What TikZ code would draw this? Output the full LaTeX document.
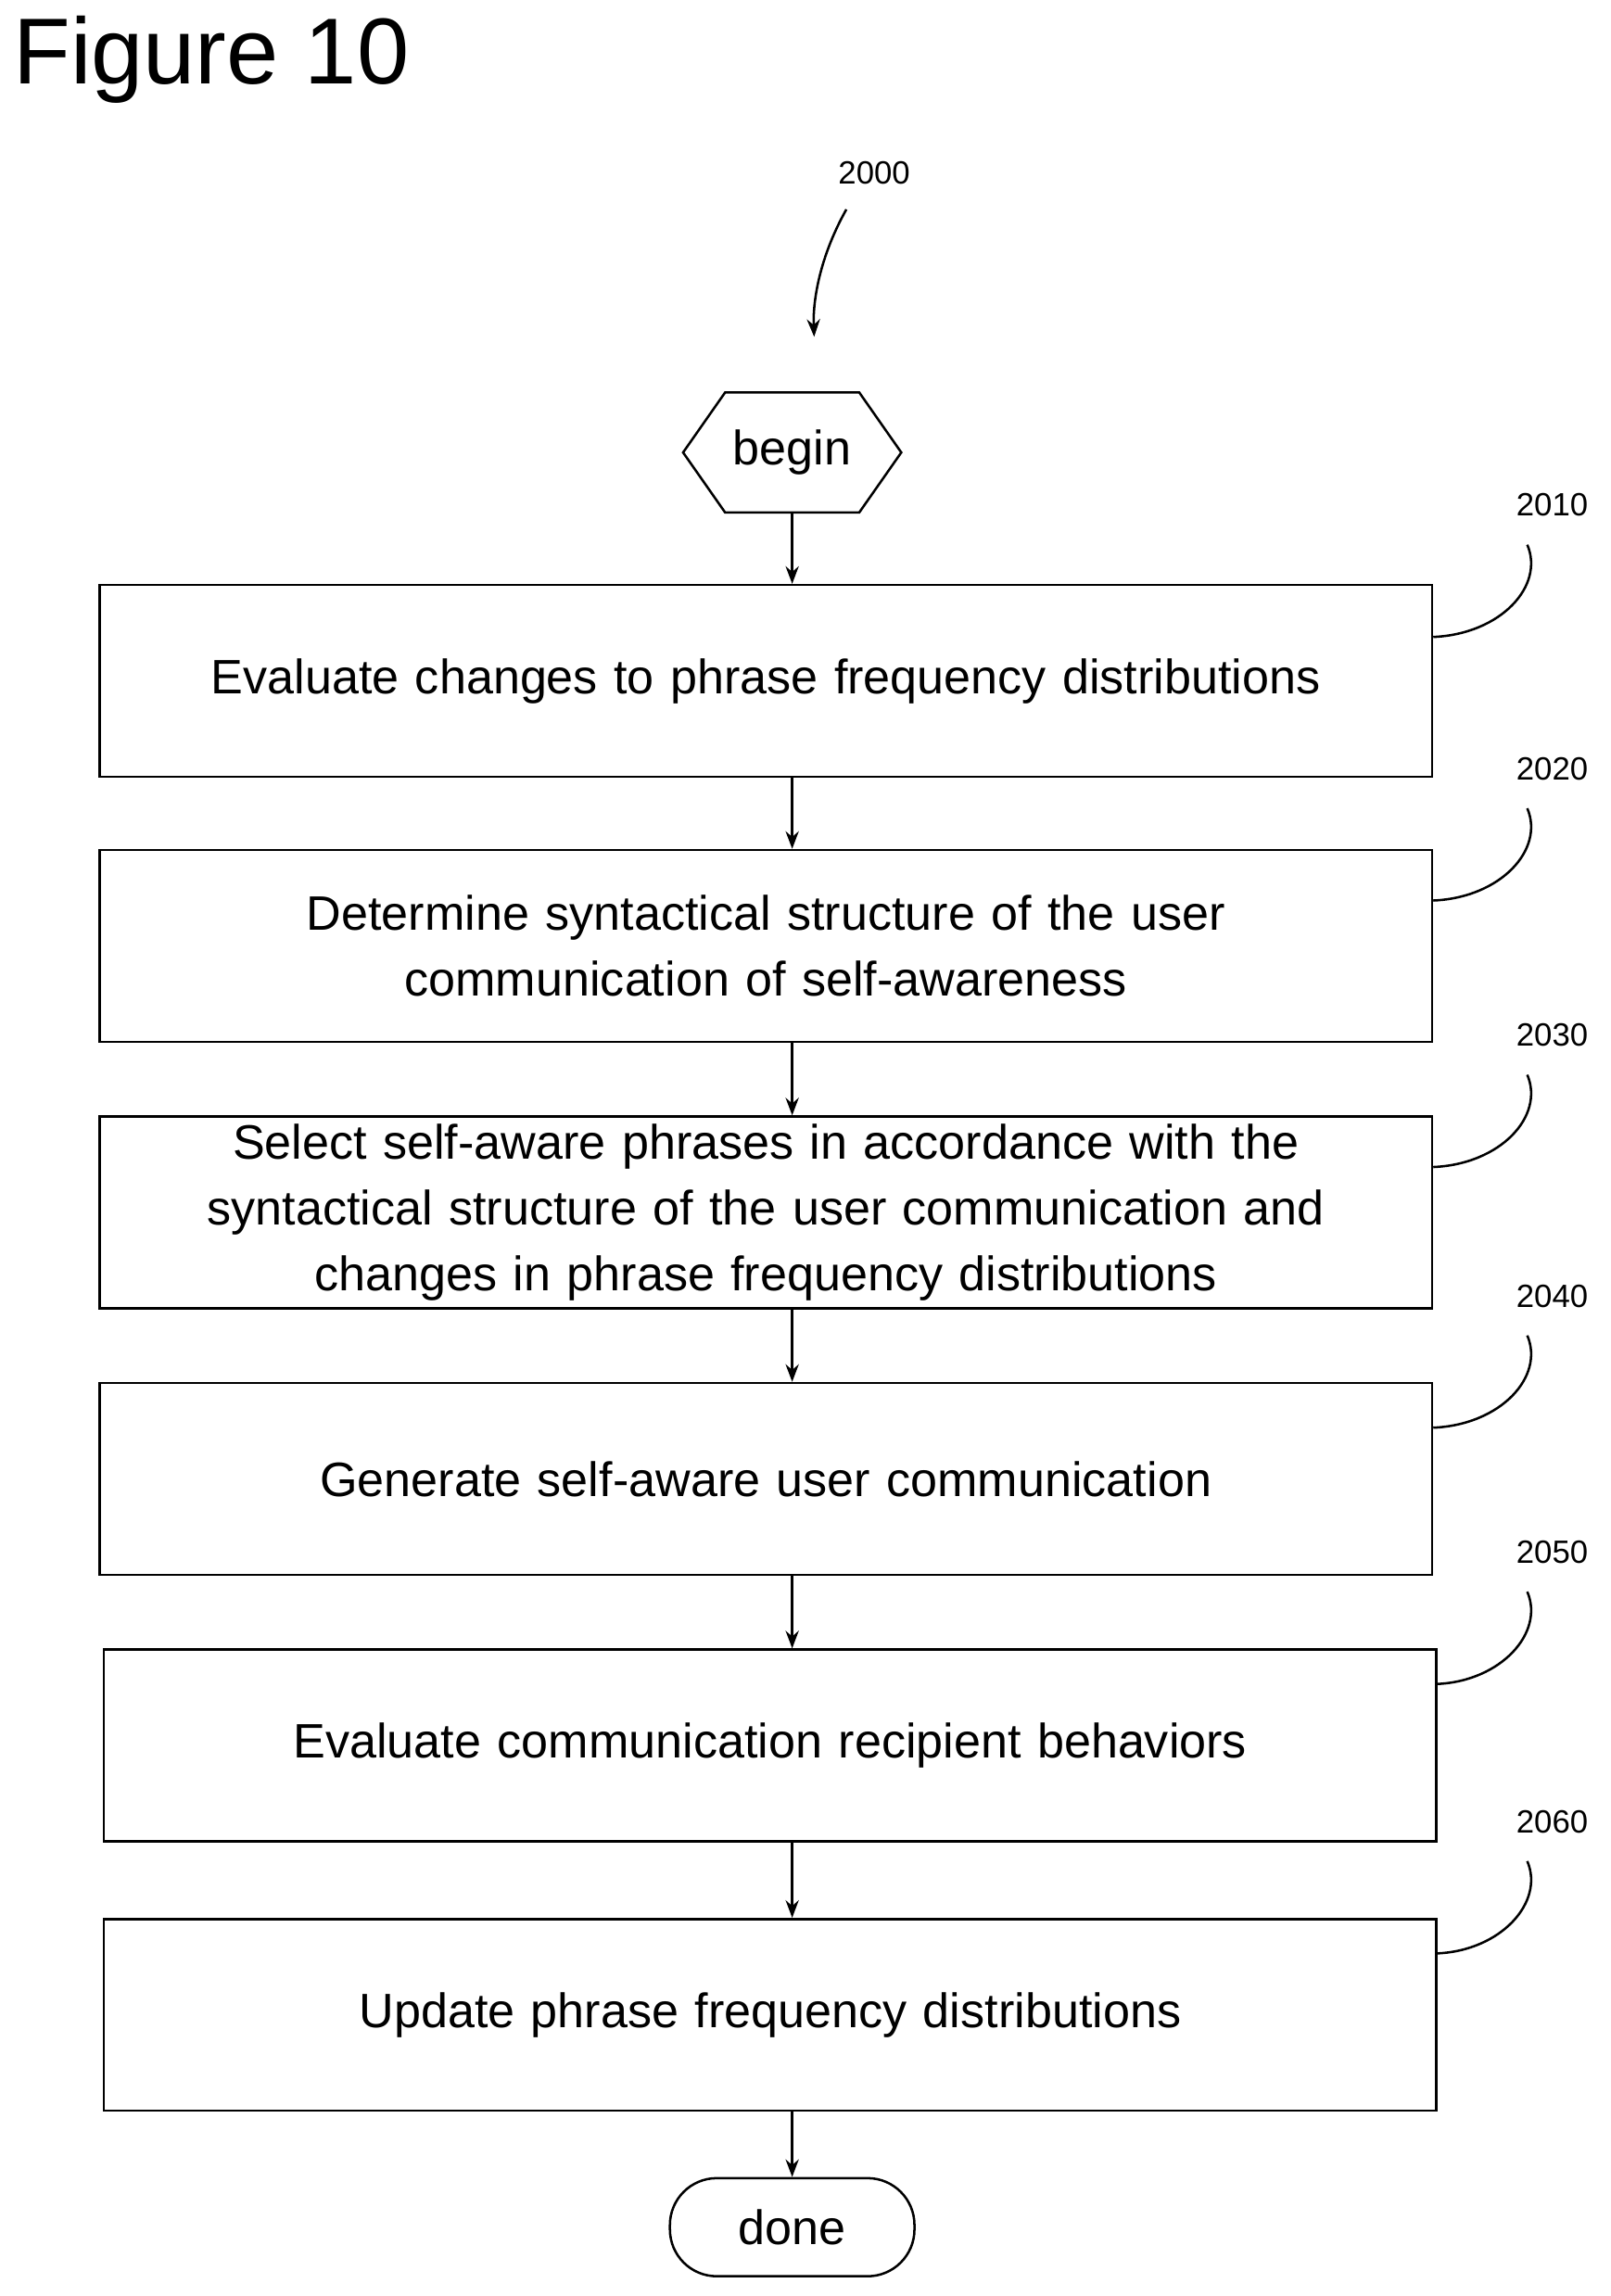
\documentclass[tikz,border=0pt]{standalone}
\usepackage{fontspec}
\setmainfont{Liberation Sans}
\usetikzlibrary{shapes.symbols,arrows.meta}

\tikzstyle{process}=[draw, thick, minimum width=455pt, minimum height=65.5pt, text width=430pt, align=center, inner sep=0pt, font=\fontsize{16.5}{22.5}\selectfont]
\tikzstyle{terminal}=[draw, thick, font=\fontsize{16.5}{20}\selectfont, inner sep=0pt]
\tikzstyle{flow} = [draw, thick, -{Stealth[length=6pt]}]
\tikzstyle{ref} = [font=\fontsize{11}{13}\selectfont]
\tikzstyle{lead} = [draw, thick]

\begin{document}
\begin{tikzpicture}[x=0.5pt, y=-0.5pt]
    \useasboundingbox (0,0) rectangle (1100,1568);
    \node[anchor=north west, font=\fontsize{32}{36}\selectfont] (title) at (2,4) {Figure 10};
    % Start and end
    \node[terminal, shape=signal, signal to=east and west, signal pointer angle=110,
      minimum width=74.5pt, minimum height=41pt] (begin) at (541,309) {begin};
    \node[terminal, rounded corners=16pt, minimum width=83.5pt, minimum height=33.5pt] (done) at (541,1521) {done};
    % The steps
    \foreach \pos/\name/\txt in {{(523,465)/s2010/Evaluate changes to phrase frequency distributions},
      {(523,646)/s2020/Determine syntactical structure of the user\\communication of self-awareness},
      {(523,828)/s2030/Select self-aware phrases in accordance with the\\syntactical structure of the user communication and\\changes in phrase frequency distributions},
      {(523,1010)/s2040/Generate self-aware user communication},
      {(526,1192)/s2050/Evaluate communication recipient behaviors},
      {(526,1376)/s2060/Update phrase frequency distributions}}
      \node[process] (\name) at \pos {\txt};
    % Arrows between them
    \foreach \source/ \dest in {begin/s2010, s2010/s2020, s2020/s2030, s2030/s2040,
      s2040/s2050, s2050/s2060, s2060/done}
      \path[flow] (\source.south -| begin) -- (\dest.north -| begin);
    % Reference numerals
    \node[ref] (r2000) at (597,118) {2000};
    \coordinate (c2000) at (556,230);
    \path[flow] (578,143) .. controls (560,175) and (555,205) .. (c2000);
    \foreach \name/\y in {2010/345, 2020/525, 2030/707, 2040/885, 2050/1060, 2060/1244} {
      \node[ref] (r\name) at (1060,\y) {\name};
      \path[lead] (s\name.east |- 0,\y+90) .. controls (1025,\y+88) and (1055,\y+55) .. (1043,\y+27);
    }
\end{tikzpicture}
\end{document}
